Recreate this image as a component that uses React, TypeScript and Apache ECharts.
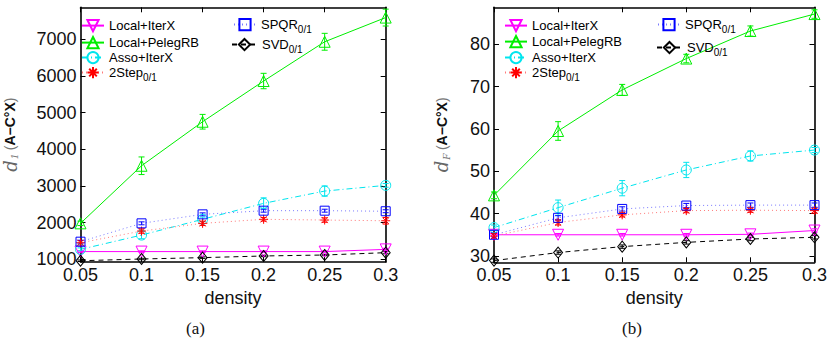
import React, { useEffect, useRef } from "react";
import * as echarts from "echarts";

// ---------- data ----------
const densities = ["0.05", "0.1", "0.15", "0.2", "0.25", "0.3"];

const seriesNames = ["Local+IterX", "Local+PelegRB", "Asso+IterX", "2Step", "SPQR", "SVD"];

// (a) d_1
const localIterX_a = [1210, 1210, 1210, 1210, 1210, 1270];
const localPeleg_a = [1980, 3550, 4750, 5860, 6930, 7590];
const assoIterX_a = [1270, 1660, 2090, 2525, 2860, 3015];
const twoStep_a = [1450, 1770, 1980, 2090, 2070, 2050];
const spqr_a = [1480, 1980, 2225, 2325, 2325, 2310];
const svd_a = [960, 1008, 1045, 1090, 1117, 1180];

const err_localIterX_a = [20, 20, 20, 20, 20, 30];
const err_localPeleg_a = [60, 240, 200, 210, 230, 230];
const err_assoIterX_a = [40, 100, 60, 150, 140, 50];
const err_twoStep_a = [60, 60, 60, 50, 60, 90];
const err_spqr_a = [40, 40, 40, 40, 40, 40];
const err_svd_a = [20, 20, 20, 20, 20, 30];

// (b) d_F
const localIterX_b = [35.0, 35.0, 35.0, 35.0, 35.1, 36.0];
const localPeleg_b = [44.3, 59.5, 69.2, 76.6, 83.1, 87.1];
const assoIterX_b = [36.7, 41.4, 46.0, 50.3, 53.6, 55.0];
const twoStep_b = [34.7, 37.9, 39.7, 40.7, 40.8, 40.7];
const spqr_b = [35.0, 39.0, 41.1, 41.9, 42.0, 42.0];
const svd_b = [28.9, 30.8, 32.2, 33.2, 34.0, 34.4];

const err_localIterX_b = [0.3, 0.3, 0.3, 0.3, 0.3, 0.4];
const err_localPeleg_b = [0.8, 2.2, 1.3, 1.0, 1.2, 1.0];
const err_assoIterX_b = [0.6, 1.8, 1.8, 1.8, 1.2, 0.6];
const err_twoStep_b = [0.6, 0.6, 0.5, 0.5, 0.5, 0.6];
const err_spqr_b = [0.5, 0.5, 0.5, 0.5, 0.5, 0.5];
const err_svd_b = [0.4, 0.4, 0.4, 0.4, 0.4, 0.4];

const yTicks_a = [1000, 2000, 3000, 4000, 5000, 6000, 7000];
const yTicks_b = [30, 40, 50, 60, 70, 80];

// ---------- styles ----------
const ASTERISK = "path://M5 0L5 10M0 5L10 5M1.6 1.6L8.4 8.4M1.6 8.4L8.4 1.6";

const styles: Record<string, any> = {
  "Local+IterX": { color: "#ff00ff", line: "#ff00ff", type: "solid", symbol: "triangle", rotate: 180, size: 11 },
  "Local+PelegRB": { color: "#00ee00", line: "#00ee00", type: "solid", symbol: "triangle", rotate: 0, size: 11 },
  "Asso+IterX": { color: "#00e5ee", line: "#00e5ee", type: [6, 3, 1, 3], symbol: "circle", rotate: 0, size: 10 },
  "2Step": { color: "#ff0000", line: "#ff7a7a", type: [1, 3], symbol: ASTERISK, rotate: 0, size: 9 },
  "SPQR": { color: "#0000ff", line: "#7a7aff", type: [1, 3], symbol: "rect", rotate: 0, size: 9 },
  "SVD": { color: "#000000", line: "#000000", type: [5, 4], symbol: "diamond", rotate: 0, size: [9, 11] },
};

const FONT = "Liberation Sans, Arial, Helvetica, sans-serif";

function buildSeries(grid: number, vals: number[][], errs: number[][]) {
  const out: any[] = [];
  seriesNames.forEach((name, k) => {
    const st = styles[name];
    out.push({
      type: "custom",
      name: name + "_err_" + grid,
      xAxisIndex: grid * 2,
      yAxisIndex: grid * 2,
      silent: true,
      data: vals[k].map((v, i) => [i, v, errs[k][i]]),
      encode: { x: 0, y: 1 },
      renderItem: (params: any, api: any) => {
        const i = api.value(0);
        const v = api.value(1);
        const e = api.value(2);
        const lo = api.coord([i, v - e]);
        const hi = api.coord([i, v + e]);
        const w = 3;
        const s = { stroke: st.color, lineWidth: 1 };
        return {
          type: "group",
          children: [
            { type: "line", shape: { x1: lo[0], y1: lo[1], x2: hi[0], y2: hi[1] }, style: s },
            { type: "line", shape: { x1: lo[0] - w, y1: lo[1], x2: lo[0] + w, y2: lo[1] }, style: s },
            { type: "line", shape: { x1: hi[0] - w, y1: hi[1], x2: hi[0] + w, y2: hi[1] }, style: s },
          ],
        };
      },
      z: 2,
    });
    out.push({
      type: "line",
      name,
      xAxisIndex: grid * 2,
      yAxisIndex: grid * 2,
      data: vals[k],
      clip: false,
      symbol: st.symbol,
      symbolRotate: st.rotate,
      symbolSize: st.size,
      showAllSymbol: true,
      lineStyle: { color: st.line, width: 1, type: st.type },
      itemStyle: { color: "transparent", borderColor: st.color, borderWidth: 1 },
      z: 3,
    });
  });
  return out;
}

function xAxes(grid: number) {
  const base = {
    type: "category",
    data: densities,
    gridIndex: grid,
    boundaryGap: false,
    splitLine: { show: false },
    axisLine: { show: true, onZero: false, lineStyle: { color: "#000", width: 1.6 } },
    axisTick: { show: true, inside: true, length: 5, alignWithLabel: true, lineStyle: { color: "#000", width: 1 } },
  };
  return [
    {
      ...base,
      position: "bottom",
      name: "density",
      nameLocation: "middle",
      nameGap: 22,
      nameTextStyle: { fontFamily: FONT, fontSize: 18, color: "#111" },
      axisLabel: { fontFamily: FONT, fontSize: 18, color: "#111", margin: 4, interval: 0 },
    },
    { ...base, position: "top", axisLabel: { show: false } },
  ];
}

function yAxes(grid: number, min: number, max: number, ticks: number[], sub: string, gap: number) {
  const base = {
    type: "value",
    gridIndex: grid,
    min,
    max,
    splitLine: { show: false },
    axisLine: { show: true, onZero: false, lineStyle: { color: "#000", width: 1.6 } },
    axisTick: { show: true, inside: true, length: 5, customValues: ticks, lineStyle: { color: "#000", width: 1 } },
  };
  return [
    {
      ...base,
      position: "left",
      name: "{d|d}{s|" + sub + "} {p|(}{b|A−C°X}{p|)}",
      nameLocation: "middle",
      nameGap: gap,
      nameRotate: 90,
      nameTextStyle: {
        rich: {
          d: { fontFamily: "DejaVu Serif, serif", fontStyle: "italic", fontSize: 18, color: "#666" },
          s: { fontFamily: "DejaVu Serif, serif", fontStyle: "italic", fontSize: 9, color: "#777", verticalAlign: "bottom", padding: [10, 0, 0, 1] },
          p: { fontFamily: FONT, fontSize: 14, color: "#777" },
          b: { fontFamily: FONT, fontSize: 14, fontWeight: "bold", color: "#111" },
        },
      },
      axisLabel: {
        fontFamily: FONT,
        fontSize: 18,
        color: "#111",
        margin: 4,
        customValues: ticks,
        formatter: (v: number) => String(v),
      },
    },
    { ...base, position: "right", axisLabel: { show: false } },
  ];
}

const legendRich = {
  sub: { fontFamily: FONT, fontSize: 10, color: "#000", verticalAlign: "bottom", padding: [9, 0, 0, 0] },
};

function legendFmt(name: string) {
  if (name === "2Step" || name === "SPQR" || name === "SVD") return name + "{sub|0/1}";
  return name;
}

function legendItem(name: string, left: number, top: number, width: number) {
  return {
    data: [name],
    left,
    top,
    padding: 0,
    itemWidth: width,
    itemHeight: 14,
    selectedMode: false,
    formatter: legendFmt,
    textStyle: { fontFamily: FONT, fontSize: 13, color: "#000", rich: legendRich },
  };
}

export default function App() {
  const ref = useRef<HTMLDivElement>(null);
  useEffect(() => {
    if (!ref.current) return;
    const chart = echarts.init(ref.current, undefined, { renderer: "svg" });
    const legends: any[] = [];
    // chart (a)
    legends.push(legendItem("Local+IterX", 81, 19, 22));
    legends.push(legendItem("Local+PelegRB", 81, 36, 22));
    legends.push(legendItem("Asso+IterX", 81, 51, 22));
    legends.push(legendItem("2Step", 81, 66, 22));
    legends.push(legendItem("SPQR", 233, 18, 22));
    legends.push(legendItem("SVD", 231, 38, 25));
    // chart (b)
    legends.push(legendItem("Local+IterX", 504, 19, 22));
    legends.push(legendItem("Local+PelegRB", 504, 35, 22));
    legends.push(legendItem("Asso+IterX", 504, 51, 22));
    legends.push(legendItem("2Step", 504, 66, 22));
    legends.push(legendItem("SPQR", 657, 18, 22));
    legends.push(legendItem("SVD", 656, 41, 25));

    chart.setOption({
      animation: false,
      backgroundColor: "#fff",
      grid: [
        { left: 77.5, top: 7.3, width: 308.2, height: 254.7, show: false },
        { left: 494, top: 7.3, width: 328.3, height: 255, show: false },
      ],
      xAxis: [...xAxes(0), ...xAxes(1)],
      yAxis: [
        ...yAxes(0, 926, 7870, yTicks_a, "1", 61),
        ...yAxes(1, 28.5, 88.7, yTicks_b, "F", 43),
      ],
      legend: legends,
      graphic: [
        { type: "text", left: 186, top: 320, style: { text: "(a)", font: "17px 'Liberation Serif', 'DejaVu Serif', serif", fill: "#111" } },
        { type: "text", left: 622, top: 320, style: { text: "(b)", font: "17px 'Liberation Serif', 'DejaVu Serif', serif", fill: "#111" } },
      ],
      series: [
        ...buildSeries(0,
          [localIterX_a, localPeleg_a, assoIterX_a, twoStep_a, spqr_a, svd_a],
          [err_localIterX_a, err_localPeleg_a, err_assoIterX_a, err_twoStep_a, err_spqr_a, err_svd_a]),
        ...buildSeries(1,
          [localIterX_b, localPeleg_b, assoIterX_b, twoStep_b, spqr_b, svd_b],
          [err_localIterX_b, err_localPeleg_b, err_assoIterX_b, err_twoStep_b, err_spqr_b, err_svd_b]),
      ],
    });
    return () => chart.dispose();
  }, []);
  return (
    <div
      ref={ref}
      style={{ position: "absolute", left: 0, top: 0, width: 830, height: 344, background: "#fff" }}
    />
  );
}
